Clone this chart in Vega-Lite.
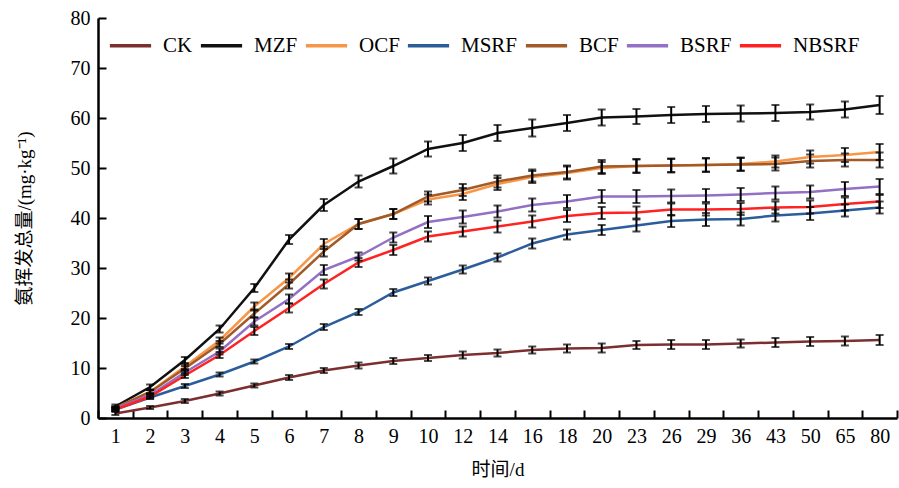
{
  "$schema": "https://vega.github.io/schema/vega-lite/v6.json",
  "autosize": "none",
  "width": 799,
  "height": 400,
  "padding": {"left": 98, "top": 18, "right": 2, "bottom": 70},
  "background": "white",
  "config": {
    "view": {"stroke": null},
    "axis": {
      "domainColor": "black", "domainWidth": 2.5, "tickColor": "black", "tickWidth": 2,
      "grid": false, "labelColor": "black", "labelFont": "Liberation Serif", "labelFontSize": 20,
      "titleFont": "Liberation Serif, Noto Sans CJK SC", "titleFontSize": 18, "titleFontWeight": "normal", "titleColor": "black"
    }
  },
  "datasets": {
    "ammonia": [
      {"d":1,"g":"CK","v":0.9,"e":0.3},{"d":2,"g":"CK","v":2.1,"e":0.3},{"d":3,"g":"CK","v":3.4,"e":0.4},{"d":4,"g":"CK","v":4.9,"e":0.4},{"d":5,"g":"CK","v":6.5,"e":0.4},{"d":6,"g":"CK","v":8.1,"e":0.5},{"d":7,"g":"CK","v":9.5,"e":0.5},{"d":8,"g":"CK","v":10.5,"e":0.6},{"d":9,"g":"CK","v":11.4,"e":0.6},{"d":10,"g":"CK","v":12.0,"e":0.6},{"d":12,"g":"CK","v":12.6,"e":0.7},{"d":14,"g":"CK","v":13.0,"e":0.7},{"d":16,"g":"CK","v":13.6,"e":0.7},{"d":18,"g":"CK","v":13.9,"e":0.8},{"d":20,"g":"CK","v":14.0,"e":0.9},{"d":23,"g":"CK","v":14.6,"e":0.8},{"d":26,"g":"CK","v":14.7,"e":0.9},{"d":29,"g":"CK","v":14.7,"e":0.9},{"d":36,"g":"CK","v":14.9,"e":0.8},{"d":43,"g":"CK","v":15.1,"e":0.9},{"d":50,"g":"CK","v":15.3,"e":0.9},{"d":65,"g":"CK","v":15.4,"e":0.9},{"d":80,"g":"CK","v":15.6,"e":1.0},
      {"d":1,"g":"MZF","v":2.3,"e":0.4},{"d":2,"g":"MZF","v":6.2,"e":0.5},{"d":3,"g":"MZF","v":11.6,"e":0.6},{"d":4,"g":"MZF","v":17.8,"e":0.7},{"d":5,"g":"MZF","v":26.0,"e":0.8},{"d":6,"g":"MZF","v":35.7,"e":0.9},{"d":7,"g":"MZF","v":42.6,"e":1.2},{"d":8,"g":"MZF","v":47.3,"e":1.2},{"d":9,"g":"MZF","v":50.4,"e":1.5},{"d":10,"g":"MZF","v":53.8,"e":1.5},{"d":12,"g":"MZF","v":55.0,"e":1.6},{"d":14,"g":"MZF","v":57.0,"e":1.6},{"d":16,"g":"MZF","v":58.0,"e":1.7},{"d":18,"g":"MZF","v":59.0,"e":1.6},{"d":20,"g":"MZF","v":60.1,"e":1.6},{"d":23,"g":"MZF","v":60.3,"e":1.5},{"d":26,"g":"MZF","v":60.6,"e":1.6},{"d":29,"g":"MZF","v":60.8,"e":1.6},{"d":36,"g":"MZF","v":60.9,"e":1.6},{"d":43,"g":"MZF","v":61.0,"e":1.6},{"d":50,"g":"MZF","v":61.2,"e":1.5},{"d":65,"g":"MZF","v":61.7,"e":1.6},{"d":80,"g":"MZF","v":62.6,"e":1.8},
      {"d":1,"g":"OCF","v":2.0,"e":0.3},{"d":2,"g":"OCF","v":5.2,"e":0.4},{"d":3,"g":"OCF","v":10.3,"e":0.5},{"d":4,"g":"OCF","v":15.5,"e":0.6},{"d":5,"g":"OCF","v":22.3,"e":0.8},{"d":6,"g":"OCF","v":28.0,"e":0.9},{"d":7,"g":"OCF","v":34.8,"e":1.0},{"d":8,"g":"OCF","v":38.8,"e":1.0},{"d":9,"g":"OCF","v":40.8,"e":1.0},{"d":10,"g":"OCF","v":43.7,"e":1.0},{"d":12,"g":"OCF","v":44.8,"e":1.2},{"d":14,"g":"OCF","v":46.8,"e":1.2},{"d":16,"g":"OCF","v":48.2,"e":1.2},{"d":18,"g":"OCF","v":49.0,"e":1.3},{"d":20,"g":"OCF","v":50.0,"e":1.2},{"d":23,"g":"OCF","v":50.4,"e":1.3},{"d":26,"g":"OCF","v":50.5,"e":1.3},{"d":29,"g":"OCF","v":50.6,"e":1.3},{"d":36,"g":"OCF","v":50.8,"e":1.3},{"d":43,"g":"OCF","v":51.3,"e":1.2},{"d":50,"g":"OCF","v":52.2,"e":1.3},{"d":65,"g":"OCF","v":52.6,"e":1.4},{"d":80,"g":"OCF","v":53.2,"e":1.6},
      {"d":1,"g":"MSRF","v":1.7,"e":0.3},{"d":2,"g":"MSRF","v":4.1,"e":0.3},{"d":3,"g":"MSRF","v":6.4,"e":0.4},{"d":4,"g":"MSRF","v":8.7,"e":0.4},{"d":5,"g":"MSRF","v":11.3,"e":0.4},{"d":6,"g":"MSRF","v":14.3,"e":0.5},{"d":7,"g":"MSRF","v":18.2,"e":0.6},{"d":8,"g":"MSRF","v":21.2,"e":0.6},{"d":9,"g":"MSRF","v":25.1,"e":0.7},{"d":10,"g":"MSRF","v":27.4,"e":0.7},{"d":12,"g":"MSRF","v":29.7,"e":0.8},{"d":14,"g":"MSRF","v":32.1,"e":0.8},{"d":16,"g":"MSRF","v":34.9,"e":1.0},{"d":18,"g":"MSRF","v":36.7,"e":1.0},{"d":20,"g":"MSRF","v":37.6,"e":1.0},{"d":23,"g":"MSRF","v":38.5,"e":1.2},{"d":26,"g":"MSRF","v":39.4,"e":1.2},{"d":29,"g":"MSRF","v":39.7,"e":1.3},{"d":36,"g":"MSRF","v":39.8,"e":1.3},{"d":43,"g":"MSRF","v":40.5,"e":1.2},{"d":50,"g":"MSRF","v":40.9,"e":1.3},{"d":65,"g":"MSRF","v":41.5,"e":1.2},{"d":80,"g":"MSRF","v":42.1,"e":1.2},
      {"d":1,"g":"BCF","v":2.0,"e":0.3},{"d":2,"g":"BCF","v":5.2,"e":0.4},{"d":3,"g":"BCF","v":9.9,"e":0.5},{"d":4,"g":"BCF","v":14.8,"e":0.6},{"d":5,"g":"BCF","v":20.9,"e":0.8},{"d":6,"g":"BCF","v":26.8,"e":0.9},{"d":7,"g":"BCF","v":33.3,"e":1.0},{"d":8,"g":"BCF","v":38.8,"e":1.0},{"d":9,"g":"BCF","v":40.8,"e":1.0},{"d":10,"g":"BCF","v":44.3,"e":1.0},{"d":12,"g":"BCF","v":45.6,"e":1.2},{"d":14,"g":"BCF","v":47.3,"e":1.2},{"d":16,"g":"BCF","v":48.5,"e":1.2},{"d":18,"g":"BCF","v":49.2,"e":1.3},{"d":20,"g":"BCF","v":50.3,"e":1.3},{"d":23,"g":"BCF","v":50.4,"e":1.4},{"d":26,"g":"BCF","v":50.5,"e":1.4},{"d":29,"g":"BCF","v":50.6,"e":1.4},{"d":36,"g":"BCF","v":50.7,"e":1.3},{"d":43,"g":"BCF","v":50.8,"e":1.3},{"d":50,"g":"BCF","v":51.4,"e":1.3},{"d":65,"g":"BCF","v":51.6,"e":1.3},{"d":80,"g":"BCF","v":51.6,"e":1.5},
      {"d":1,"g":"BSRF","v":1.9,"e":0.3},{"d":2,"g":"BSRF","v":4.6,"e":0.4},{"d":3,"g":"BSRF","v":9.1,"e":0.5},{"d":4,"g":"BSRF","v":13.3,"e":0.6},{"d":5,"g":"BSRF","v":19.3,"e":0.8},{"d":6,"g":"BSRF","v":23.8,"e":0.9},{"d":7,"g":"BSRF","v":29.6,"e":1.0},{"d":8,"g":"BSRF","v":32.3,"e":0.8},{"d":9,"g":"BSRF","v":36.1,"e":1.0},{"d":10,"g":"BSRF","v":39.2,"e":1.2},{"d":12,"g":"BSRF","v":40.2,"e":1.3},{"d":14,"g":"BSRF","v":41.3,"e":1.2},{"d":16,"g":"BSRF","v":42.6,"e":1.3},{"d":18,"g":"BSRF","v":43.3,"e":1.3},{"d":20,"g":"BSRF","v":44.3,"e":1.3},{"d":23,"g":"BSRF","v":44.3,"e":1.3},{"d":26,"g":"BSRF","v":44.4,"e":1.3},{"d":29,"g":"BSRF","v":44.5,"e":1.3},{"d":36,"g":"BSRF","v":44.7,"e":1.3},{"d":43,"g":"BSRF","v":45.0,"e":1.3},{"d":50,"g":"BSRF","v":45.2,"e":1.3},{"d":65,"g":"BSRF","v":45.8,"e":1.4},{"d":80,"g":"BSRF","v":46.3,"e":1.5},
      {"d":1,"g":"NBSRF","v":1.7,"e":0.3},{"d":2,"g":"NBSRF","v":4.3,"e":0.4},{"d":3,"g":"NBSRF","v":8.5,"e":0.5},{"d":4,"g":"NBSRF","v":12.6,"e":0.6},{"d":5,"g":"NBSRF","v":17.4,"e":0.8},{"d":6,"g":"NBSRF","v":22.0,"e":0.9},{"d":7,"g":"NBSRF","v":26.8,"e":0.9},{"d":8,"g":"NBSRF","v":31.1,"e":0.9},{"d":9,"g":"NBSRF","v":33.6,"e":1.0},{"d":10,"g":"NBSRF","v":36.3,"e":1.0},{"d":12,"g":"NBSRF","v":37.3,"e":1.0},{"d":14,"g":"NBSRF","v":38.3,"e":1.2},{"d":16,"g":"NBSRF","v":39.3,"e":1.2},{"d":18,"g":"NBSRF","v":40.4,"e":1.2},{"d":20,"g":"NBSRF","v":41.0,"e":1.2},{"d":23,"g":"NBSRF","v":41.1,"e":1.2},{"d":26,"g":"NBSRF","v":41.7,"e":1.2},{"d":29,"g":"NBSRF","v":41.7,"e":1.2},{"d":36,"g":"NBSRF","v":41.8,"e":1.2},{"d":43,"g":"NBSRF","v":42.1,"e":1.2},{"d":50,"g":"NBSRF","v":42.2,"e":1.3},{"d":65,"g":"NBSRF","v":42.8,"e":1.3},{"d":80,"g":"NBSRF","v":43.3,"e":1.3}
    ]
  },
  "data": {"name": "ammonia"},
  "encoding": {
    "x": {
      "field": "d", "type": "ordinal",
      "scale": {"type": "band", "paddingInner": 0, "paddingOuter": 0},
      "axis": {"title": "时间/d", "labelAngle": 0, "tickBand": "extent", "tickSize": -8, "labelPadding": 16, "titlePadding": 14, "titleFontSize": 19}
    },
    "y": {
      "field": "v", "type": "quantitative",
      "scale": {"domain": [0, 80], "nice": false},
      "axis": {"title": "氨挥发总量/(mg·kg⁻¹)", "values": [0,10,20,30,40,50,60,70,80], "tickSize": -8, "labelPadding": 16, "titlePadding": 36, "titleFontSize": 19}
    }
  },
  "layer": [
    {
      "mark": {"type": "line", "strokeWidth": 2.5},
      "encoding": {
        "color": {
          "field": "g", "type": "nominal",
          "scale": {
            "domain": ["CK","MZF","OCF","MSRF","BCF","BSRF","NBSRF"],
            "range": ["#7d2f2f","#111111","#f79646","#2c5d9b","#a35a27","#9370c4","#ff2222"]
          },
          "legend": {
            "title": null, "orient": "none", "direction": "horizontal", "legendX": 10, "legendY": 5,
            "symbolType": "stroke", "symbolSize": 1700, "symbolStrokeWidth": 3.5,
            "labelFont": "Liberation Serif", "labelFontSize": 21, "labelFontWeight": "normal", "labelColor": "black",
            "labelOffset": 10, "columnPadding": 0
          }
        }
      }
    },
    {
      "mark": {"type": "errorbar", "ticks": {"size": 8, "thickness": 2}, "thickness": 2, "color": "black"},
      "encoding": {
        "yError": {"field": "e"}
      }
    }
  ]
}
